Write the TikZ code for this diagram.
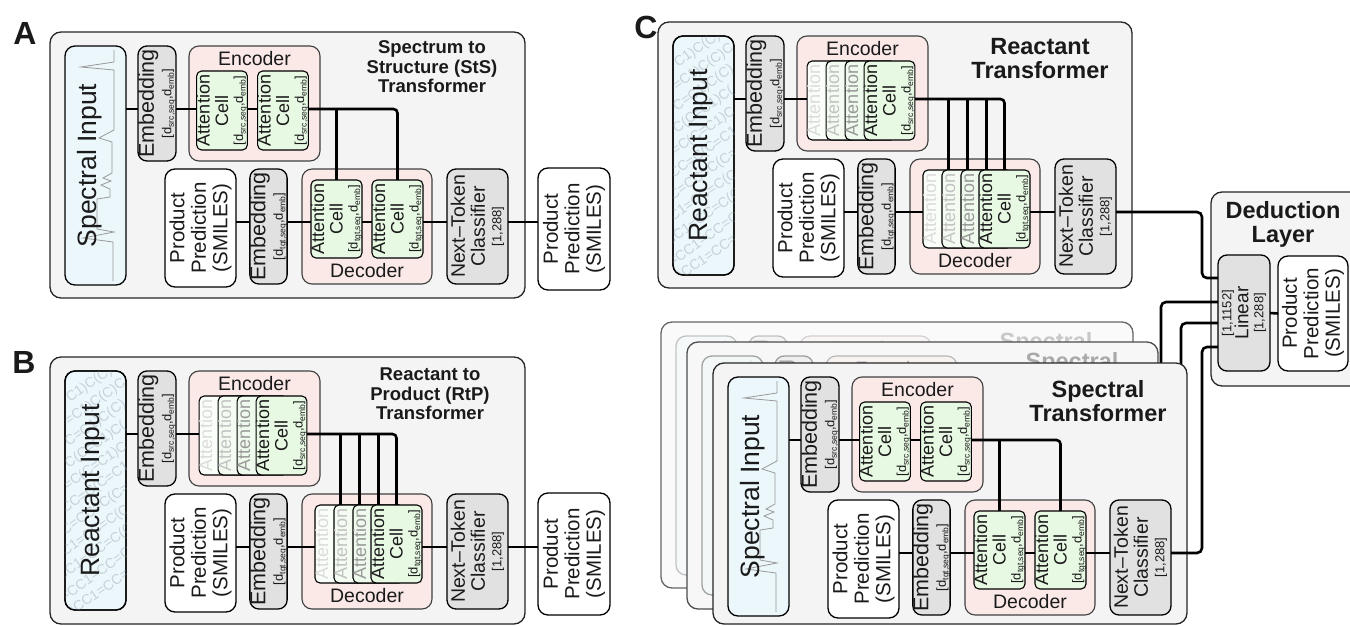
\documentclass[tikz,border=0pt]{standalone}
\usepackage{fontspec}
\setmainfont{Liberation Sans}
\usetikzlibrary{calc}

\definecolor{panelfill}{HTML}{F4F4F4}
\definecolor{inputfill}{HTML}{ECF7FC}
\definecolor{grayfill}{HTML}{E1E1E1}
\definecolor{pinkfill}{HTML}{FBE9E8}
\definecolor{cellfill}{HTML}{E7F8E3}
\definecolor{ink}{HTML}{1A1A1A}
\definecolor{smiles}{HTML}{C6D1D8}

\newcommand{\fs}[2]{\fontsize{#1}{#2}\selectfont}
\newcommand{\sbs}[1]{\raisebox{-0.35ex}{\fs{8.5}{8.5}#1}}
\newcommand{\celltext}[1]{Attention\\Cell\\[-3.5pt]{\fs{13}{13}[d\sbs{#1},d\sbs{emb}]}}

% rotated block: name, style, x1, y1, x2, y2, label
\newcommand{\blk}[7]{\node[#2, rotate=90, minimum width={(#6-#4)*1pt}, minimum height={(#5-#3)*1pt}] (#1) at ({(#3+#5)/2},{(#4+#6)/2}) {#7};}
% plain block without label: name, style, x1, y1, x2, y2
\newcommand{\hblk}[6]{\node[#2, minimum width={(#5-#3)*1pt}, minimum height={(#6-#4)*1pt}] (#1) at ({(#3+#5)/2},{(#4+#6)/2}) {};}

\tikzset{
  every node/.style={inner sep=0pt, outer sep=0pt, text=ink},
  boxbase/.style={line width=1.3pt, draw=black, align=center},
  framebox/.style={boxbase, fill=panelfill, draw=black!85, rounded corners=11pt},
  inbox/.style={boxbase, fill=inputfill, rounded corners=10pt},
  graybox/.style={boxbase, fill=grayfill, rounded corners=9pt},
  pinkbox/.style={boxbase, fill=pinkfill, draw=black!75, line width=1.1pt, rounded corners=10pt},
  cellbox/.style={boxbase, fill=cellfill, line width=1.1pt, rounded corners=5pt, font=\fs{18}{18.5}},
  back1/.style={fill=cellfill!20!white, text=black!14},
  back2/.style={fill=cellfill!45!white, text=black!24},
  back3/.style={fill=cellfill!70!white, text=black!40},
  whitebox/.style={boxbase, fill=white, rounded corners=10pt, font=\fs{20.5}{21.5}},
  embtext/.style={font=\fs{21.5}{17.5}},
  ntctext/.style={font=\fs{19.5}{20}},
  conn/.style={line width=2.6pt, draw=black, rounded corners=4pt},
  specline/.style={draw=black!40, line width=0.8pt},
  smilestext/.style={text=smiles, font=\fs{14}{14}},
  bigtext/.style={font=\fs{26.5}{28}},
  lbl/.style={font=\fs{19.5}{20}},
  titleAB/.style={font=\bfseries\fs{18.5}{19.5}, align=center},
  titleC/.style={font=\bfseries\fs{23.5}{24}, align=center},
  letter/.style={font=\bfseries\fs{32}{32}},
}

% input box with a stylised spectrum
\newcommand{\spectralinput}{%
  \hblk{in}{inbox}{15}{14}{76}{253}
  \draw[specline, shift={(15,14)}] (49,4) -- (49,16) -- (16,21) -- (49,24) -- (49,84) -- (34,92)
    -- (47,96) -- (47,127) -- (38,132) -- (46,135) -- (36,139) -- (45,143) -- (45,151)
    -- (32,153) -- (32,183) -- (49,186) -- (18,192) -- (48,196) -- (48,235);
  \node[bigtext, rotate=90] (inlabel) at (40,133.5) {Spectral Input};
}

% input box with SMILES fragments in the background
\newcommand{\reactantinput}{%
  \hblk{in}{inbox}{15}{14}{76}{253}
  \begin{scope}
    \clip[rounded corners=10pt] (15,14) rectangle (76,253);
    \foreach \s [count=\k] in {C1)C(C)C(,=C1)C(C)C,C=C1)C(C),C(C=C1)C(,=C(C=C1)C,CC=C(C=C1,C=CC=C(C=,C1=CC=C(C,CC1=CC=C(C,=CC1=CC=C,C)CC1=CC=}
      {\node[smilestext, rotate=35] (sm\k) at (45.5,{\k*21.5+2}) {\s};}
  \end{scope}
  \draw[line width=1.3pt, rounded corners=10pt] (15,14) rectangle (76,253);
  \node[bigtext, rotate=90] (inlabel) at (43,133.5) {Reactant Input};
}

% blocks shared by every transformer panel
\newcommand{\panelcore}{%
  \blk{embT}{graybox,embtext}{88}{14}{126}{129}{Embedding\\{\fs{13}{13}[d\sbs{src,seq},d\sbs{emb}]}}
  \hblk{enc}{pinkbox}{139}{14}{270}{129}
  \node[lbl] (encl) at (204.5,27) {Encoder};
  \blk{pp}{whitebox}{115}{137}{186}{255}{Product\\Prediction\\(SMILES)}
  \blk{embB}{graybox,embtext}{200}{137}{237}{252}{Embedding\\{\fs{13}{13}[d\sbs{tgt,seq},d\sbs{emb}]}}
  \hblk{dec}{pinkbox}{252}{137}{382}{252}
  \node[lbl] (decl) at (317,239) {Decoder};
  \blk{ntc}{graybox,ntctext}{397}{137}{458}{252}{Next--Token\\Classifier\\[-3.5pt]{\fs{13}{13}[1,288]}}
  \coordinate (r1) at (0,77);
  \coordinate (r2) at (0,190);
  \draw[conn] (in.east |- r1) -- (embT.north |- r1);
  \draw[conn] (pp.south |- r2) -- (embB.north |- r2);
}

% two attention cells in encoder and decoder
\newcommand{\twocells}{%
  \blk{e1}{cellbox}{147}{39}{197}{118}{\celltext{src,seq}}
  \blk{e2}{cellbox}{208}{39}{258}{118}{\celltext{src,seq}}
  \blk{d1}{cellbox}{261}{148}{312}{226}{\celltext{tgt,seq}}
  \blk{d2}{cellbox}{322}{148}{373}{226}{\celltext{tgt,seq}}
  \draw[conn] (embT.south |- r1) -- (e1.north |- r1);
  \draw[conn] (e1.south |- r1) -- (e2.north |- r1);
  \draw[conn] (e2.south |- r1) -| (d2.east);
  \draw[conn] (d1.east) -- (d1.east |- r1);
  \draw[conn] (embB.south |- r2) -- (d1.north |- r2);
  \draw[conn] (d1.south |- r2) -- (d2.north |- r2);
  \draw[conn] (d2.south |- r2) -- (ntc.north |- r2);
}

% stacks of four attention cells in encoder and decoder
\newcommand{\stackcells}{%
  \blk{e1}{cellbox,back1}{150}{39}{199}{118}{\celltext{src,seq}}
  \blk{e2}{cellbox,back2}{169}{39}{218}{118}{\celltext{src,seq}}
  \blk{e3}{cellbox,back3}{188}{39}{237}{118}{\celltext{src,seq}}
  \blk{e4}{cellbox}{207}{39}{256}{118}{\celltext{src,seq}}
  \blk{d1}{cellbox,back1}{265}{148}{316}{226}{\celltext{tgt,seq}}
  \blk{d2}{cellbox,back2}{284}{148}{335}{226}{\celltext{tgt,seq}}
  \blk{d3}{cellbox,back3}{303}{148}{354}{226}{\celltext{tgt,seq}}
  \blk{d4}{cellbox}{321}{148}{372}{226}{\celltext{tgt,seq}}
  \draw[conn] (embT.south |- r1) -- (e1.north |- r1);
  \draw[conn] (e4.south |- r1) -| (d4.east);
  \draw[conn] (d1.east) -- (d1.east |- r1);
  \draw[conn] (d2.east) -- (d2.east |- r1);
  \draw[conn] (d3.east) -- (d3.east |- r1);
  \draw[conn] (embB.south |- r2) -- (d1.north |- r2);
  \draw[conn] (d4.south |- r2) -- (ntc.north |- r2);
}

\begin{document}
\begin{tikzpicture}[x=1pt, y=-1pt]
\useasboundingbox (0,0) rectangle (1350,626);

% ---------------- A: spectrum to structure ----------------
\node[letter] (labA) at (25,33) {A};
\begin{scope}[shift={(50,32)}, name prefix=A-]
  \hblk{frame}{framebox}{0}{0}{475}{266}
  \spectralinput
  \panelcore
  \twocells
  \blk{out}{whitebox}{488}{136}{560}{258}{Product\\Prediction\\(SMILES)}
  \draw[conn] (ntc.south |- r2) -- (out.north |- r2);
  \node[titleAB] (title) at (382,35) {Spectrum to\\Structure (StS)\\Transformer};
\end{scope}

% ---------------- B: reactant to product ----------------
\node[letter] (labB) at (24,362) {B};
\begin{scope}[shift={(50,357)}, name prefix=B-]
  \hblk{frame}{framebox}{0}{0}{475}{267}
  \reactantinput
  \panelcore
  \stackcells
  \blk{out}{whitebox}{488}{136}{560}{258}{Product\\Prediction\\(SMILES)}
  \draw[conn] (ntc.south |- r2) -- (out.north |- r2);
  \node[titleAB] (title) at (380,37) {Reactant to\\Product (RtP)\\Transformer};
\end{scope}

% ---------------- C: ensemble with deduction layer ----------------
\node[letter] (labC) at (646,27) {C};
\begin{scope}[shift={(658,22)}, name prefix=Ct-]
  \hblk{frame}{framebox}{0}{0}{474}{266}
  \reactantinput
  \panelcore
  \stackcells
  \node[titleC] (title) at (382,36.5) {Reactant\\Transformer};
\end{scope}

\hblk{ded}{framebox}{1211}{192}{1362}{386}
\node[titleC] (dedt) at (1283,224.5) {Deduction\\Layer};
\blk{lin}{graybox, font=\fs{19}{17}}{1218}{255}{1270}{371}{{\fs{13}{13}[1,1152]}\\Linear\\[-2pt]{\fs{13}{13}[1,288]}}
\blk{dpp}{whitebox}{1278}{256}{1348}{371}{Product\\Prediction\\(SMILES)}
\draw[conn] (lin.south) -- (dpp.north);

\coordinate (J1) at (1202,278); \coordinate (L1) at (1218,278);
\coordinate (J2) at (1161,302); \coordinate (L2) at (1218,302);
\coordinate (J3) at (1181,323); \coordinate (L3) at (1218,323);
\coordinate (J4) at (1202,347); \coordinate (L4) at (1218,347);
\draw[conn, rounded corners=5pt] (Ct-ntc.south |- Ct-r2) -| (J1) -- (L1);

% spectral transformers, stacked back to front
\begin{scope}[shift={(661,322)}, name prefix=S1-]
  \hblk{frame}{framebox, fill=black!2, draw=black!60}{0}{0}{472}{266}
  \begin{scope}[opacity=0.22]
    \spectralinput
    \panelcore
    \twocells
    \node[titleC] (title) at (385,31) {Spectral\\Transformer};
  \end{scope}
\end{scope}
\draw[conn, rounded corners=5pt] (S1-ntc.south |- S1-r2) -| (J2) -- (L2);

\begin{scope}[shift={(687,342)}, name prefix=S2-]
  \hblk{frame}{framebox, fill=black!3, draw=black!70}{0}{0}{471}{267}
  \begin{scope}[opacity=0.35]
    \spectralinput
    \panelcore
    \twocells
    \node[titleC] (title) at (385,31) {Spectral\\Transformer};
  \end{scope}
\end{scope}
\draw[conn, rounded corners=5pt] (S2-ntc.south |- S2-r2) -| (J3) -- (L3);

\begin{scope}[shift={(713,363)}, name prefix=S3-]
  \hblk{frame}{framebox}{0}{0}{474}{261}
  \spectralinput
  \panelcore
  \twocells
  \node[titleC] (title) at (385,38) {Spectral\\Transformer};
\end{scope}
\draw[conn, rounded corners=5pt] (S3-ntc.south |- S3-r2) -| (J4) -- (L4);

\end{tikzpicture}
\end{document}
